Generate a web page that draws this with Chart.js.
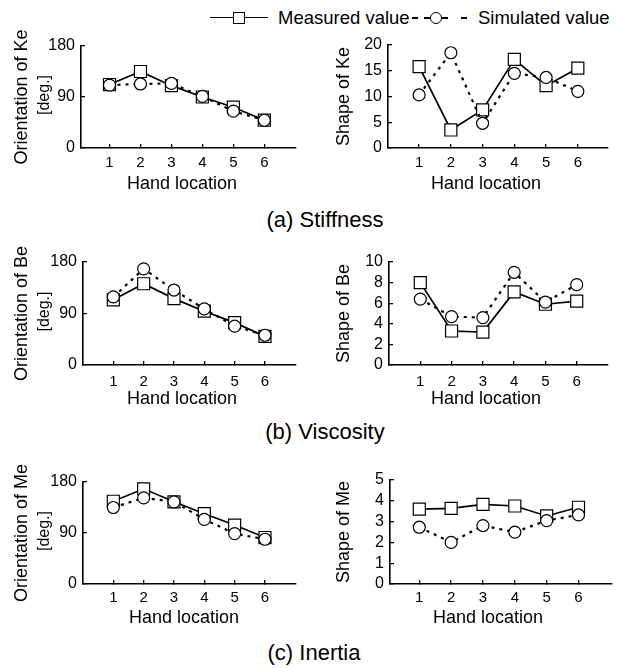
<!DOCTYPE html>
<html><head><meta charset="utf-8">
<script src="https://cdn.jsdelivr.net/npm/chart.js@4/dist/chart.umd.min.js"></script>
<style>
html,body{margin:0;padding:0;background:#fff;}
#wrap{position:relative;width:621px;height:668px;overflow:hidden;font-family:'Liberation Sans',Arial,sans-serif;color:#000;}
canvas.p{position:absolute;}
.t{position:absolute;white-space:nowrap;line-height:1;}
.cap{font-size:22px;transform:translate(-50%,-50%);}
.lg{font-size:18.5px;transform:translateY(-50%);}
.ln{position:absolute;height:0;border-top:1.6px solid #000;}
.dsh{position:absolute;height:2px;background:#000;}
.sq{position:absolute;width:10px;height:10px;border:1.2px solid #000;background:#fff;transform:translate(-50%,-50%);}
.ci{position:absolute;width:10px;height:10px;border:1.2px solid #000;border-radius:50%;background:#fff;transform:translate(-50%,-50%);}
</style></head>
<body>
<div id="wrap">
  <div class="ln" style="left:210px;top:17px;width:58px;"></div>
  <div class="sq" style="left:239px;top:18px;"></div>
  <div class="t lg" style="left:278px;top:18px;">Measured value</div>
  <div class="dsh" style="left:412px;top:17px;width:6px;"></div>
  <div class="dsh" style="left:424px;top:17px;width:6px;"></div>
  <div class="dsh" style="left:442px;top:17px;width:6px;"></div>
  <div class="dsh" style="left:461px;top:17px;width:6px;"></div>
  <div class="ci" style="left:436px;top:18px;"></div>
  <div class="t lg" style="left:478px;top:18px;">Simulated value</div>

  <div class="t cap" style="left:325px;top:220px;">(a) Stiffness</div>
  <div class="t cap" style="left:325px;top:432px;">(b) Viscosity</div>
  <div class="t cap" style="left:314px;top:653px;">(c) Inertia</div>

  <canvas class="p" id="c1" width="305" height="175" style="left:0;top:25px"></canvas>
  <canvas class="p" id="c2" width="316" height="175" style="left:305px;top:25px"></canvas>
  <canvas class="p" id="c3" width="305" height="170" style="left:0;top:240px"></canvas>
  <canvas class="p" id="c4" width="316" height="170" style="left:305px;top:240px"></canvas>
  <canvas class="p" id="c5" width="305" height="170" style="left:0;top:460px"></canvas>
  <canvas class="p" id="c6" width="316" height="170" style="left:305px;top:460px"></canvas>
</div>
<script>
// ---- data ----
const cats = [1, 2, 3, 4, 5, 6];
const xTickLabels = ['1', '2', '3', '4', '5', '6'];
const seriesNames = ['Simulated value', 'Measured value'];

const oriKeMeas = [112, 135, 110, 90, 72, 49];
const oriKeSim  = [111, 113, 114, 91, 65, 49];
const shapeKeMeas = [15.8, 3.5, 7.4, 17.2, 12.1, 15.5];
const shapeKeSim  = [10.3, 18.5, 4.8, 14.5, 13.7, 11.0];

const oriBeMeas = [114, 142, 116, 94, 74, 50];
const oriBeSim  = [119, 168, 131, 98, 68, 52];
const shapeBeMeas = [8.0, 3.3, 3.2, 7.1, 5.9, 6.2];
const shapeBeSim  = [6.4, 4.7, 4.6, 9.0, 6.1, 7.8];

const oriMeMeas = [146, 168, 145, 124, 104, 82];
const oriMeSim  = [135, 152, 145, 114, 89, 79];
const shapeMeMeas = [3.6, 3.64, 3.83, 3.75, 3.27, 3.69];
const shapeMeSim  = [2.73, 2.0, 2.81, 2.49, 3.05, 3.32];

const oriTicks = [0, 90, 180];
const shapeKeTicks = [0, 5, 10, 15, 20];
const shapeBeTicks = [0, 2, 4, 6, 8, 10];
const shapeMeTicks = [0, 1, 2, 3, 4, 5];

const yTitles = ['Orientation of Ke', 'Shape of Ke', 'Orientation of Be', 'Shape of Be', 'Orientation of Me', 'Shape of Me'];
const xTitle = 'Hand location';
const unitLabel = '[deg.]';

// ---- layout ----
const FONT = "'Liberation Sans', Arial, sans-serif";
Chart.defaults.font.family = FONT;
Chart.defaults.color = '#000';

const panels = [
  {id:'c1', L:0,   T:25,  W:305, H:175, l:81,  r:298, t:46,  b:148, xmin:0.08, xmax:7,    ticks:oriTicks,     meas:oriKeMeas,   sim:oriKeSim,   title:yTitles[0], left:true,  xx:182, xy:184, xpad:10},
  {id:'c2', L:305, T:25,  W:316, H:175, l:388, r:608, t:45,  b:148, xmin:0.02, xmax:6.95, ticks:shapeKeTicks, meas:shapeKeMeas, sim:shapeKeSim, title:yTitles[1], left:false, xx:486, xy:184, xpad:10},
  {id:'c3', L:0,   T:240, W:305, H:170, l:83,  r:298, t:262, b:365, xmin:0,    xmax:7,    ticks:oriTicks,     meas:oriBeMeas,   sim:oriBeSim,   title:yTitles[2], left:true,  xx:182, xy:399, xpad:12},
  {id:'c4', L:305, T:240, W:316, H:170, l:389, r:608, t:262, b:365, xmin:0,    xmax:7,    ticks:shapeBeTicks, meas:shapeBeMeas, sim:shapeBeSim, title:yTitles[3], left:false, xx:486, xy:399, xpad:12},
  {id:'c5', L:0,   T:460, W:305, H:170, l:83,  r:297, t:482, b:584, xmin:0,    xmax:7,    ticks:oriTicks,     meas:oriMeMeas,   sim:oriMeSim,   title:yTitles[4], left:true,  xx:184, xy:618, xpad:9},
  {id:'c6', L:305, T:460, W:316, H:170, l:390, r:612, t:480, b:584, xmin:0.08, xmax:7.03, ticks:shapeMeTicks, meas:shapeMeMeas, sim:shapeMeSim, title:yTitles[5], left:false, xx:488, xy:618, xpad:9}
];

const extraText = {
  id: 'extraText',
  afterDraw(chart, args, o) {
    const ctx = chart.ctx, a = chart.chartArea;
    ctx.save();
    ctx.fillStyle = '#000';
    ctx.textAlign = 'center';
    ctx.textBaseline = 'middle';
    ctx.font = '18px ' + FONT;
    ctx.fillText(o.xTitle, o.xx, o.xy);
    if (o.sub) {
      ctx.translate(o.subX, (a.top + a.bottom) / 2 - 2);
      ctx.rotate(-Math.PI / 2);
      ctx.font = '16px ' + FONT;
      ctx.fillText(o.sub, 0, 0);
    }
    ctx.restore();
  }
};

panels.forEach(p => {
  const titleSize = 18;
  const titleCx = p.left ? 22 : 39;
  const axisGrid = {display:true, drawOnChartArea:false, drawTicks:true, tickLength:-4, color:'#000', lineWidth:1.3};
  const axisBorder = {display:true, color:'#000', width:1.6};
  new Chart(document.getElementById(p.id), {
    type: 'line',
    data: {
      datasets: [
        {
          label: seriesNames[0],
          data: cats.map((c, i) => ({x:c, y:p.sim[i]})),
          borderColor:'#000', borderWidth:2.2, borderDash:[3,5],
          pointStyle:'circle', pointRadius:6, pointBorderWidth:1.2,
          pointBackgroundColor:'#fff', pointBorderColor:'#000', tension:0
        },
        {
          label: seriesNames[1],
          data: cats.map((c, i) => ({x:c, y:p.meas[i]})),
          borderColor:'#000', borderWidth:1.7,
          pointStyle:'rect', pointRadius:8.5, pointBorderWidth:1.2,
          pointBackgroundColor:'#fff', pointBorderColor:'#000', tension:0
        }
      ]
    },
    options: {
      responsive:false, animation:false, devicePixelRatio:1,
      layout:{padding:{top:p.t - p.T, right:p.L + p.W - p.r, left:0, bottom:0}},
      plugins:{
        legend:{display:false}, tooltip:{enabled:false},
        extraText:{xTitle:xTitle, xx:p.xx - p.L, xy:p.xy - p.T, sub:p.left ? unitLabel : null, subX:45}
      },
      scales:{
        x:{
          type:'linear', min:p.xmin, max:p.xmax,
          afterBuildTicks: s => { s.ticks = cats.map(v => ({value:v})); },
          afterFit: s => { s.height = p.T + p.H - p.b; },
          ticks:{font:{size:15}, color:'#000', padding:p.xpad, autoSkip:false, maxRotation:0,
                 callback:(v) => xTickLabels[cats.indexOf(v)] ?? ''},
          grid:axisGrid, border:axisBorder
        },
        y:{
          min:p.ticks[0], max:p.ticks[p.ticks.length - 1],
          afterBuildTicks: s => { s.ticks = p.ticks.map(v => ({value:v})); },
          afterFit: s => { s.width = p.l - p.L; },
          ticks:{font:{size:16}, color:'#000', padding:10, autoSkip:false},
          grid:axisGrid, border:axisBorder,
          title:{display:true, text:p.title, color:'#000', font:{size:titleSize, lineHeight:1.2}, padding:{top:titleCx - titleSize * 0.6, bottom:0}}
        }
      }
    },
    plugins:[extraText]
  });
});
</script>
</body></html>
